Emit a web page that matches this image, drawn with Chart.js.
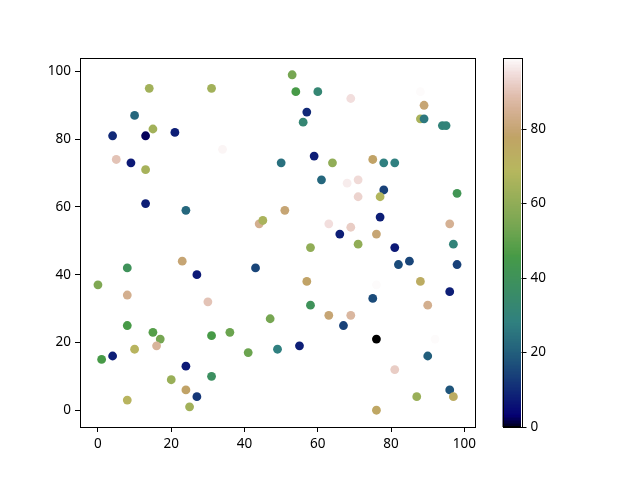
<!DOCTYPE html>
<html>
<head>
<meta charset="utf-8">
<script src="https://cdn.jsdelivr.net/npm/chart.js@4.4.1/dist/chart.umd.min.js"></script>
<style>
html,body{margin:0;padding:0;background:#fff;}
#wrap{width:640px;height:480px;position:relative;}
canvas{display:block;}
</style>
</head>
<body>
<div id="wrap"><canvas id="c" width="640" height="480"></canvas></div>
<script>
// ---- data ----
const xs = [14,31,10,15,4,13,21,34,5,9,13,13,24,44,45,50,53,54,60,69,88,89,88,89,94,95,57,56,59,64,75,78,81,61,68,71,78,77,71,98,51,63,69,66,76,77,96,97,23,8,27,43,0,8,30,47,8,15,17,16,31,36,41,49,10,1,4,24,20,31,24,27,25,8,58,71,81,82,85,98,57,76,88,96,75,58,90,63,69,67,55,76,92,90,81,96,87,97,76];
const ys = [95,95,87,83,81,81,82,77,74,73,71,61,59,55,56,73,99,94,94,92,94,90,86,86,84,84,88,85,75,73,74,73,73,68,67,68,65,63,63,64,59,55,54,52,52,57,55,49,44,42,40,42,37,34,32,27,25,23,21,19,22,23,17,18,18,15,16,13,9,10,6,4,1,3,48,49,48,43,44,43,38,37,38,35,33,31,31,28,28,25,19,21,21,16,12,6,4,4,0];
const cs = [64,64,22,64,10,2,8,98,90,7,65,8,22,84,66,24,54,46,32,95,99,80,66,26,30,30,10,32,8,60,78,28,28,22,97,94,14,68,93,42,80,95,92,8,80,8,85,30,80,40,7,15,56,84,90,54,46,48,54,86,46,52,52,28,70,46,8,7,62,38,78,12,64,70,60,60,7,16,15,14,78,99,74,8,16,40,84,80,87,14,8,0,99,20,92,18,62,74,76];
const xTicks = [0,20,40,60,80,100];
const yTicks = [0,20,40,60,80,100];
const cbTicks = [0,20,40,60,80];
const cMin = 0, cMax = 99;

// gist_earth colormap segments
const R = [[0,0],[0.2824,0.1882],[0.4588,0.2714],[0.5490,0.4719],[0.6980,0.7176],[0.7882,0.7553],[1,0.9922]];
const G = [[0,0],[0.0275,0],[0.1098,0.1893],[0.1647,0.3035],[0.2078,0.3841],[0.2824,0.5020],[0.5216,0.6397],[0.6980,0.7171],[0.7882,0.6392],[0.7922,0.6413],[0.8,0.6447],[0.8078,0.6481],[0.8157,0.6549],[0.8667,0.6991],[0.8745,0.7103],[0.8824,0.7216],[0.8902,0.7323],[0.8980,0.7430],[0.9412,0.8275],[0.9569,0.8635],[0.9647,0.8816],[0.9961,0.9733],[1,0.9843]];
const B = [[0,0],[0.0039,0.1684],[0.0078,0.2212],[0.0275,0.4329],[0.0314,0.4549],[0.2824,0.5004],[0.4667,0.2748],[0.5451,0.3205],[0.7843,0.3961],[0.8941,0.6651],[1,0.9843]];
function seg(s,t){
  for(let i=1;i<s.length;i++){
    if(t<=s[i][0]){
      const a=s[i-1],b=s[i];
      const f=(t-a[0])/(b[0]-a[0]||1);
      return a[1]+f*(b[1]-a[1]);
    }
  }
  return s[s.length-1][1];
}
function cmap(v){
  let t=(v-cMin)/(cMax-cMin);
  t=Math.max(0,Math.min(1,t));
  t=Math.floor(t*255.999)/255;
  return 'rgb('+Math.round(seg(R,t)*255)+','+Math.round(seg(G,t)*255)+','+Math.round(seg(B,t)*255)+')';
}

const FONT = {family:'"Noto Sans", "Open Sans", sans-serif', size:13.5};

const framePlugin = {
  id:'frame',
  afterDatasetsDraw(chart){
    const a=chart.chartArea, ctx=chart.ctx;
    ctx.save();
    ctx.strokeStyle='#000';ctx.lineWidth=1;
    ctx.strokeRect(Math.round(a.left)+0.5,Math.round(a.top)+0.5,Math.round(a.right-a.left),Math.round(a.bottom-a.top));
    ctx.restore();
  }
};

const colorbarPlugin = {
  id:'colorbar',
  afterDraw(chart){
    const a=chart.chartArea, ctx=chart.ctx;
    const left=502.5, w=18.5, top=a.top, bottom=a.bottom;
    const pix=v=>bottom-(v-cMin)/(cMax-cMin)*(bottom-top);
    ctx.save();
    for(let y=Math.floor(top); y<Math.ceil(bottom); y++){
      const v=cMin+(bottom-(y+0.5))/(bottom-top)*(cMax-cMin);
      ctx.fillStyle=cmap(v);
      ctx.fillRect(left,y,w,1);
    }
    ctx.strokeStyle='#000';ctx.lineWidth=1;
    ctx.strokeRect(Math.round(left)+0.5,Math.round(top)+0.5,Math.round(w),Math.round(bottom-top));
    ctx.fillStyle='#000';
    ctx.font=FONT.size+'px '+FONT.family;
    ctx.textAlign='left';ctx.textBaseline='middle';
    const rx=Math.round(left+w)+0.5;
    cbTicks.forEach(v=>{
      const y=Math.round(pix(v))+0.5;
      ctx.beginPath();ctx.moveTo(rx,y);ctx.lineTo(rx+5,y);ctx.stroke();
      ctx.fillText(String(v),rx+9,y);
    });
    ctx.restore();
  }
};

const axisCommon = {
  type:'linear',
  grid:{display:true,drawOnChartArea:false,drawTicks:true,tickLength:5,tickColor:'#000',tickWidth:1},
  border:{display:true,color:'#000',width:1},
  ticks:{color:'#000',font:FONT,padding:4,autoSkip:false,maxRotation:0}
};

new Chart(document.getElementById('c'),{
  type:'scatter',
  data:{datasets:[{
    data:xs.map((x,i)=>({x:x,y:ys[i]})),
    pointBackgroundColor:cs.map(cmap),
    pointBorderWidth:0,
    pointRadius:4.4,
    pointHoverRadius:4.4
  }]},
  options:{
    responsive:false,
    animation:false,
    devicePixelRatio:1,
    events:[],
    layout:{padding:{left:0,top:58,right:165,bottom:0}},
    plugins:{legend:{display:false},tooltip:{enabled:false}},
    scales:{
      x:Object.assign({},axisCommon,{
        min:-4.9,max:102.9,
        afterBuildTicks:s=>{s.ticks=xTicks.map(v=>({value:v}));},
        afterFit:s=>{s.height=53;}
      }),
      y:Object.assign({},axisCommon,{
        min:-4.95,max:103.95,
        afterBuildTicks:s=>{s.ticks=yTicks.map(v=>({value:v}));},
        afterFit:s=>{s.width=80;}
      })
    }
  },
  plugins:[framePlugin,colorbarPlugin]
});
</script>
</body>
</html>
